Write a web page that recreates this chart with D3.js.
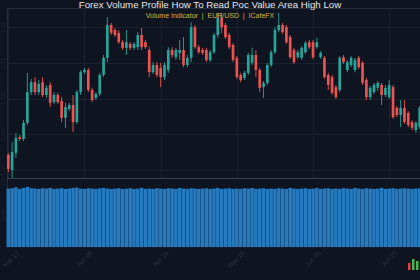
<!DOCTYPE html>
<html>
<head>
<meta charset="utf-8">
<script src="https://cdn.jsdelivr.net/npm/d3@7"></script>
<style>
  body { margin: 0; background: #0e1420; }
  svg { display: block; font-family: "Liberation Sans", Arial, sans-serif; }
</style>
</head>
<body>
<div id="chart"></div>
<script>
// daily EUR/USD candles
const startDate = new Date(2020, 2, 17);
const open = [1.0842,1.0800,1.0848,1.0892,1.0887,1.0932,1.1018,1.1046,1.1018,1.1046,
  1.1010,1.1038,1.0990,1.1010,1.0993,1.0946,1.0971,1.0982,1.0934,1.1018,
  1.1074,1.1080,1.1024,1.1002,1.1013,1.1066,1.1114,1.1206,1.1192,1.1184,
  1.1158,1.1142,1.1153,1.1142,1.1144,1.1178,1.1158,1.1136,1.1074,1.1094,
  1.1086,1.1060,1.1080,1.1136,1.1116,1.1128,1.1136,1.1094,1.1114,1.1200,
  1.1144,1.1136,1.1136,1.1108,1.1130,1.1178,1.1226,1.1206,1.1178,1.1150,
  1.1114,1.1066,1.1058,1.1072,1.1100,1.1122,1.1080,1.1032,1.1044,1.1094,
  1.1130,1.1192,1.1206,1.1200,1.1172,1.1136,1.1116,1.1114,1.1130,1.1158,
  1.1158,1.1144,1.1116,1.1114,1.1066,1.1060,1.1032,1.1024,1.1116,1.1080,
  1.1094,1.1080,1.1114,1.1100,1.1052,1.1004,1.1018,1.1030,1.1038,1.1010,
  1.1004,1.1032,1.0974,1.0954,1.0974,1.0960,1.0934,1.0912,1.0920];
const high = [1.0848,1.0878,1.0904,1.0898,1.0940,1.1072,1.1055,1.1060,1.1052,1.1060,
  1.1038,1.1046,1.1018,1.1016,1.1004,1.0988,1.0988,1.1010,1.1024,1.1080,
  1.1086,1.1086,1.1030,1.1018,1.1072,1.1122,1.1228,1.1212,1.1198,1.1192,
  1.1164,1.1192,1.1158,1.1158,1.1186,1.1198,1.1164,1.1144,1.1102,1.1102,
  1.1100,1.1102,1.1144,1.1144,1.1142,1.1164,1.1172,1.1122,1.1214,1.1206,
  1.1150,1.1142,1.1142,1.1136,1.1184,1.1240,1.1240,1.1212,1.1184,1.1156,
  1.1119,1.1072,1.1077,1.1128,1.1142,1.1136,1.1086,1.1049,1.1100,1.1136,
  1.1200,1.1240,1.1212,1.1206,1.1178,1.1142,1.1136,1.1147,1.1161,1.1164,
  1.1164,1.1170,1.1133,1.1119,1.1072,1.1066,1.1038,1.1119,1.1122,1.1108,
  1.1119,1.1114,1.1119,1.1105,1.1058,1.1035,1.1044,1.1049,1.1044,1.1038,
  1.1052,1.1038,1.0979,1.0996,1.0996,1.0965,1.0940,1.0937,1.0979];
const low = [1.0794,1.0778,1.0834,1.0881,1.0881,1.0926,1.1010,1.1010,1.1010,1.1004,
  1.1002,1.0976,1.0985,1.0985,1.0934,1.0918,1.0965,1.0906,1.0929,1.1010,
  1.1069,1.1018,1.0990,1.0996,1.1007,1.1060,1.1102,1.1178,1.1172,1.1153,
  1.1136,1.1122,1.1136,1.1136,1.1136,1.1136,1.1139,1.1060,1.1069,1.1060,
  1.1032,1.1052,1.1072,1.1114,1.1108,1.1108,1.1088,1.1088,1.1102,1.1139,
  1.1125,1.1122,1.1102,1.1102,1.1125,1.1170,1.1184,1.1167,1.1139,1.1102,
  1.1055,1.1046,1.1052,1.1066,1.1094,1.1060,1.1018,1.1002,1.1038,1.1088,
  1.1125,1.1186,1.1181,1.1153,1.1111,1.1097,1.1111,1.1108,1.1125,1.1139,
  1.1111,1.1139,1.1111,1.1055,1.1024,1.1010,1.0999,1.1018,1.1097,1.1074,
  1.1088,1.1074,1.1083,1.1038,1.0996,1.0996,1.1013,1.1021,1.0982,1.1004,
  1.0999,1.0943,1.0948,1.0920,1.0929,1.0920,1.0912,1.0904,1.0915];
const close = [1.0803,1.0850,1.0890,1.0887,1.0932,1.1018,1.1046,1.1018,1.1041,1.1010,
  1.1030,1.0988,1.1010,1.0990,1.0946,1.0976,1.0982,1.0934,1.1018,1.1074,
  1.1080,1.1024,1.0996,1.1013,1.1066,1.1114,1.1206,1.1184,1.1178,1.1158,
  1.1142,1.1158,1.1142,1.1153,1.1178,1.1144,1.1144,1.1074,1.1094,1.1066,
  1.1060,1.1094,1.1136,1.1122,1.1136,1.1136,1.1094,1.1114,1.1200,1.1144,
  1.1130,1.1128,1.1108,1.1130,1.1178,1.1226,1.1200,1.1172,1.1144,1.1108,
  1.1060,1.1052,1.1072,1.1122,1.1122,1.1080,1.1030,1.1044,1.1094,1.1130,
  1.1192,1.1206,1.1186,1.1158,1.1116,1.1102,1.1130,1.1142,1.1156,1.1144,
  1.1116,1.1158,1.1128,1.1060,1.1038,1.1016,1.1004,1.1114,1.1102,1.1102,
  1.1114,1.1108,1.1088,1.1044,1.1004,1.1030,1.1038,1.1044,1.1010,1.1030,
  1.1038,1.0948,1.0954,1.0974,1.0934,1.0926,1.0918,1.0932,1.0974];
const volume = [8850,8900,9050,8800,8950,9100,8900,8850,8800,8900,
  8850,8950,8800,8850,8900,8800,8850,8950,9000,8850,
  8800,8900,8850,8800,8900,8950,8850,8800,8850,8900,
  8800,8850,8900,8800,8850,8950,8800,8850,8800,8900,
  8850,8800,8900,8850,8800,8950,8850,8800,8900,8850,
  8800,8850,8900,8800,8850,8950,8800,8850,8900,8800,
  8850,8800,8900,8850,8950,8800,8850,8900,8800,8850,
  8800,8900,8850,8800,8950,8850,8800,8850,8900,8800,
  8850,8950,8800,8850,8900,8800,8850,8800,8900,8850,
  8800,8950,8850,8800,8900,8850,8800,8850,8950,8800,
  8850,8900,8800,8850,8900,8850,8800,8850,8900];
const priceTicks = [1.08, 1.09, 1.10, 1.11, 1.12];
const volumeTicks = [5000, 10000];
const dateTickEvery = 20;

const title = "Forex Volume Profile How To Read Poc Value Area High Low";
const subtitle = "Volume Indicator  |  EUR/USD  |  ICafeFX";

const width = 420, height = 280;
const left = 7, priceTop = 8, priceBottom = 178, volTop = 181, volBottom = 247;
const upColor = "#26a69a", downColor = "#ef5350";
const gridColor = "#1a2130";

const fmt = d3.timeFormat("%b %d");
const categories = open.map((d, i) => fmt(d3.timeDay.offset(startDate, i)));

const svg = d3.select("#chart").append("svg")
  .attr("width", width).attr("height", height);

svg.append("rect").attr("width", width).attr("height", height).attr("fill", "#0e1420");

const x = d3.scaleBand().domain(categories).range([6.4, 421.6])
  .paddingInner(0.3).paddingOuter(0.15);
const xv = d3.scaleBand().domain(categories).range([6.4, 421.6])
  .paddingInner(0.07).paddingOuter(0.035);
const cx = d => x(d) + x.bandwidth() / 2;

const y = d3.scaleLinear().domain([1.07776, 1.12536]).range([priceBottom, priceTop]);
const yv = d3.scaleLinear().domain([0, 10000]).range([volBottom, volTop]);

const dateTicks = categories.filter((d, i) => i % dateTickEvery === 0);

// grid lines
svg.append("g").selectAll("line").data(priceTicks).enter().append("line")
  .attr("x1", left).attr("x2", width)
  .attr("y1", d => Math.round(y(d)) + 0.5).attr("y2", d => Math.round(y(d)) + 0.5)
  .attr("stroke", gridColor);
svg.append("g").selectAll("line").data(dateTicks).enter().append("line")
  .attr("x1", d => Math.round(cx(d)) + 0.5).attr("x2", d => Math.round(cx(d)) + 0.5)
  .attr("y1", priceTop).attr("y2", priceBottom)
  .attr("stroke", gridColor);

// panel frame
svg.append("path")
  .attr("d", `M${width},${priceTop + 0.5}H${left + 0.5}V${volBottom}`)
  .attr("fill", "none").attr("stroke", "#252d3b");
svg.append("line").attr("x1", left).attr("x2", width)
  .attr("y1", priceBottom + 0.5).attr("y2", priceBottom + 0.5)
  .attr("stroke", "#3b4352");

// candles
const idx = d3.range(open.length);
const candles = svg.append("g").selectAll("g").data(idx).enter().append("g");
const col = i => close[i] >= open[i] ? upColor : downColor;
candles.append("line")
  .attr("x1", i => cx(categories[i])).attr("x2", i => cx(categories[i]))
  .attr("y1", i => y(high[i])).attr("y2", i => y(low[i]))
  .attr("stroke", col).attr("stroke-width", 0.9);
candles.append("rect")
  .attr("x", i => x(categories[i])).attr("width", x.bandwidth())
  .attr("y", i => y(Math.max(open[i], close[i])))
  .attr("height", i => Math.max(1, Math.abs(y(open[i]) - y(close[i]))))
  .attr("fill", col);

// volume bars
svg.append("g").selectAll("rect").data(idx).enter().append("rect")
  .attr("x", i => xv(categories[i])).attr("width", xv.bandwidth())
  .attr("y", i => yv(volume[i])).attr("height", i => yv(0) - yv(volume[i]))
  .attr("fill", "#257ac0");

// axes (labels are very faint in the original)
const yAxis = svg.append("g").attr("transform", `translate(${left},0)`)
  .call(d3.axisLeft(y).tickValues(priceTicks).tickSize(0).tickFormat(d3.format(".2f")));
const vAxis = svg.append("g").attr("transform", `translate(${left},0)`)
  .call(d3.axisLeft(yv).tickValues(volumeTicks).tickSize(0).tickFormat(d3.format(".2s")));
[yAxis, vAxis].forEach(g => {
  g.select(".domain").remove();
  g.selectAll(".tick text")
    .attr("transform", "rotate(-90)")
    .attr("x", 0).attr("y", -2).attr("dy", 0)
    .attr("text-anchor", "middle")
    .attr("fill", "#1e2533").attr("font-size", 6);
});

const xAxis = svg.append("g").attr("transform", `translate(0,${volBottom})`)
  .call(d3.axisBottom(x).tickValues(dateTicks).tickSize(0));
xAxis.select(".domain").attr("stroke", "#161d29");
xAxis.selectAll("text")
  .attr("fill", "#2c3442").attr("font-size", 6.5)
  .attr("text-anchor", "end")
  .attr("transform", (d, i) => `translate(${i === 0 ? 10 : 7},5) rotate(-45)`)
  .attr("x", 0).attr("y", 0).attr("dy", "0.3em");

// title
svg.append("text").attr("x", 210).attr("y", 7.5)
  .attr("text-anchor", "middle").attr("fill", "#e8e8e8").attr("font-size", 9.7)
  .text(title);
svg.append("text").attr("x", 210).attr("y", 18)
  .attr("text-anchor", "middle").attr("fill", "#d6b53c").attr("font-size", 7)
  .style("white-space", "pre")
  .text(subtitle);

// small logo mark, bottom right
const logo = svg.append("g").attr("transform", "translate(408,258)");
logo.append("rect").attr("x", 0).attr("y", 5).attr("width", 2.5).attr("height", 7).attr("fill", "#e0404a");
logo.append("rect").attr("x", 4).attr("y", 1).attr("width", 2.5).attr("height", 11).attr("fill", "#49b54a");
logo.append("rect").attr("x", 8).attr("y", 3).attr("width", 2.5).attr("height", 9).attr("fill", "#49b54a");
</script>
</body>
</html>
